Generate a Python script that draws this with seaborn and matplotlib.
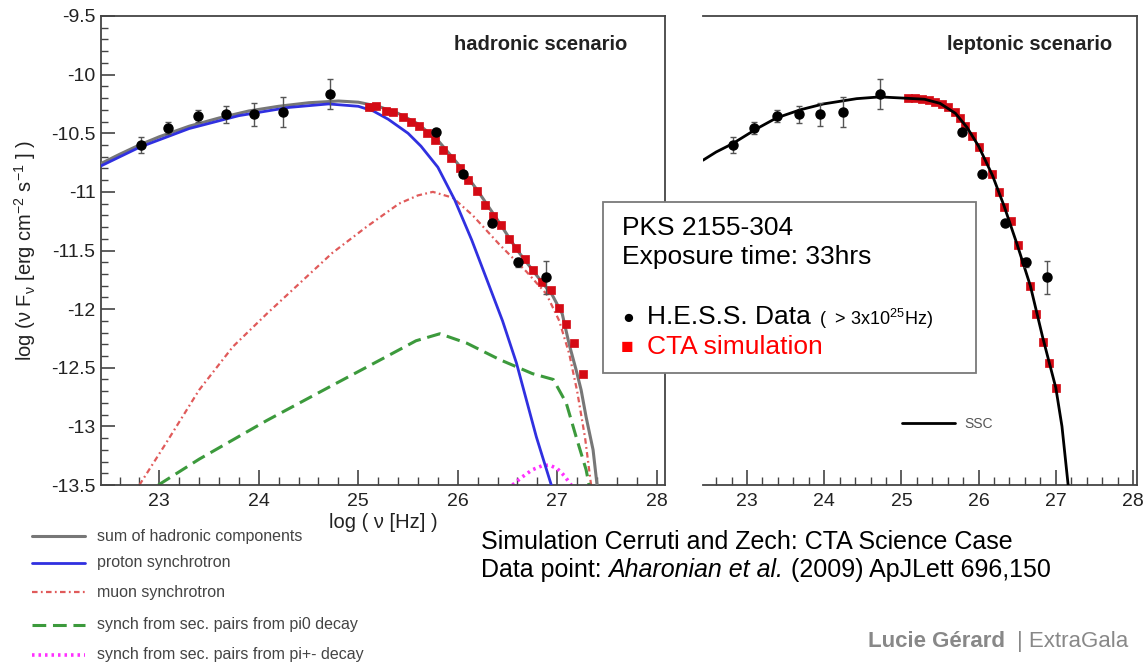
import matplotlib
matplotlib.use("Agg")
import matplotlib.pyplot as plt
from matplotlib.lines import Line2D
from matplotlib.patches import Rectangle
from matplotlib.ticker import MultipleLocator, FuncFormatter
import seaborn as sns

# ---------------------------------------------------------------- data
# H.E.S.S. spectral points (log nu [Hz], log nuFnu [erg cm-2 s-1])
hess_lognu = [22.82, 23.09, 23.385, 23.67, 23.95, 24.24, 24.72,
              25.78, 26.05, 26.34, 26.61, 26.89]
hess_logflux = [-10.60, -10.455, -10.35, -10.34, -10.34, -10.32, -10.165,
                -10.49, -10.85, -11.265, -11.60, -11.73]
hess_err = [0.065, 0.05, 0.05, 0.075, 0.10, 0.125, 0.125,
            0.02, 0.02, 0.02, 0.04, 0.14]

# CTA simulated points, hadronic model
cta_had_lognu = [25.11, 25.18, 25.28, 25.35, 25.45, 25.53, 25.61, 25.69, 25.77,
                 25.85, 25.93, 26.02, 26.10, 26.19, 26.27, 26.35, 26.43, 26.51,
                 26.59, 26.68, 26.76, 26.85, 26.94, 27.02, 27.09, 27.17, 27.26]
cta_had_logflux = [-10.28, -10.27, -10.31, -10.32, -10.36, -10.40, -10.44, -10.50,
                   -10.56, -10.64, -10.71, -10.80, -10.90, -10.99, -11.11, -11.21,
                   -11.28, -11.40, -11.48, -11.57, -11.67, -11.77, -11.84, -11.99,
                   -12.13, -12.29, -12.55]

# CTA simulated points, leptonic model
cta_lep_lognu = [25.09, 25.18, 25.27, 25.36, 25.44, 25.53, 25.61, 25.69, 25.76,
                 25.83, 25.92, 26.01, 26.08, 26.18, 26.26, 26.33, 26.42, 26.51,
                 26.59, 26.67, 26.75, 26.83, 26.91, 27.00]
cta_lep_logflux = [-10.20, -10.20, -10.21, -10.22, -10.23, -10.25, -10.28, -10.32,
                   -10.37, -10.44, -10.52, -10.62, -10.74, -10.85, -11.00, -11.13,
                   -11.25, -11.45, -11.60, -11.80, -12.04, -12.28, -12.46, -12.67]

# hadronic model components
sum_lognu = [22.41, 22.6, 22.8, 23.0, 23.3, 23.6, 23.9, 24.2, 24.5, 24.8, 25.0,
             25.2, 25.4, 25.6, 25.8, 26.0, 26.2, 26.4, 26.6, 26.8, 26.95, 27.05,
             27.12, 27.19, 27.24, 27.29, 27.36, 27.40]
sum_logflux = [-10.76, -10.68, -10.60, -10.53, -10.44, -10.37, -10.31, -10.27,
               -10.24, -10.225, -10.235, -10.27, -10.33, -10.42, -10.56, -10.76,
               -10.99, -11.24, -11.50, -11.72, -11.88, -12.04, -12.30, -12.52,
               -12.69, -12.92, -13.2, -13.5]

proton_lognu = [22.41, 22.8, 23.3, 23.8, 24.3, 24.7, 25.0, 25.15, 25.3, 25.5,
                25.63, 25.8, 25.97, 26.14, 26.32, 26.45, 26.59, 26.79, 26.94]
proton_logflux = [-10.78, -10.62, -10.46, -10.35, -10.28, -10.25, -10.27, -10.31,
                  -10.38, -10.50, -10.61, -10.79, -11.07, -11.41, -11.81, -12.1,
                  -12.46, -13.09, -13.5]

muon_lognu = [22.80, 23.07, 23.40, 23.74, 24.08, 24.41, 24.74, 25.08, 25.41, 25.6,
              25.75, 25.95, 26.15, 26.42, 26.69, 26.89, 27.02, 27.12, 27.2, 27.28,
              27.34]
muon_logflux = [-13.5, -13.14, -12.69, -12.32, -12.04, -11.78, -11.52, -11.30,
                -11.10, -11.03, -11.0, -11.05, -11.20, -11.45, -11.68, -11.87,
                -12.1, -12.38, -12.7, -13.1, -13.5]

pi0_lognu = [22.99, 23.40, 24.08, 24.74, 25.25, 25.58, 25.82, 26.09, 26.42, 26.75,
             26.96, 27.09, 27.19, 27.29, 27.32]
pi0_logflux = [-13.5, -13.28, -12.95, -12.65, -12.42, -12.27, -12.21, -12.29,
               -12.43, -12.55, -12.60, -12.80, -13.09, -13.37, -13.5]

pipm_lognu = [26.55, 26.65, 26.75, 26.85, 26.92, 27.0, 27.07, 27.14]
pipm_logflux = [-13.5, -13.43, -13.37, -13.335, -13.33, -13.36, -13.42, -13.5]

# leptonic (SSC) model
ssc_lognu = [22.43, 22.6, 22.81, 23.13, 23.38, 23.69, 23.99, 24.42, 24.72, 25.02,
             25.3, 25.5, 25.7, 25.85, 26.0, 26.18, 26.33, 26.5, 26.67, 26.83, 27.0,
             27.08, 27.16]
ssc_logflux = [-10.73, -10.66, -10.59, -10.46, -10.37, -10.30, -10.25, -10.205,
               -10.19, -10.20, -10.21, -10.245, -10.33, -10.45, -10.61, -10.86,
               -11.12, -11.45, -11.8, -12.24, -12.67, -13.0, -13.5]

y_ticks = [-13.5, -13, -12.5, -12, -11.5, -11, -10.5, -10, -9.5]
x_ticks = [23, 24, 25, 26, 27, 28]

legend_labels = ["sum of hadronic components", "proton synchrotron",
                 "muon synchrotron", "synch from sec. pairs from pi0 decay",
                 "synch from sec. pairs from pi+- decay"]

# ---------------------------------------------------------------- style
sns.set_style("ticks")
plt.rcParams["font.family"] = ["Liberation Sans", "DejaVu Sans"]
plt.rcParams["axes.unicode_minus"] = False
plt.rcParams["mathtext.fontset"] = "custom"
plt.rcParams["mathtext.rm"] = "Liberation Sans"
plt.rcParams["mathtext.it"] = "Liberation Sans:italic"
plt.rcParams["mathtext.bf"] = "Liberation Sans:bold"
plt.rcParams["mathtext.default"] = "regular"

GREY = "#777777"
BLUE = "#3030e0"
MUON = "#e05a5a"
GREEN = "#3c9a3c"
MAGENTA = "#ff30ff"
CTA_RED = "#d40a14"

W, H = 1143, 663
fig = plt.figure(figsize=(W / 100, H / 100), dpi=100)


def fx(px):
    return px / W


def fy(py):
    return 1 - py / H


def px_rect(x0, y0, x1, y1):
    return [fx(x0), fy(y1), (x1 - x0) / W, (y1 - y0) / H]


ax_h = fig.add_axes(px_rect(101, 16, 665, 485))
ax_l = fig.add_axes(px_rect(703, 16, 1137, 485))


def style_axes(ax, xlim):
    ax.set_xlim(*xlim)
    ax.set_ylim(-13.5, -9.5)
    for side in ["top", "right", "bottom", "left"]:
        ax.spines[side].set_color("#444444")
        ax.spines[side].set_linewidth(1.3)
    ax.set_xticks(x_ticks)
    ax.set_yticks(y_ticks)
    ax.xaxis.set_minor_locator(MultipleLocator(0.2))
    ax.yaxis.set_minor_locator(MultipleLocator(0.1))
    ax.yaxis.set_major_formatter(FuncFormatter(lambda v, p: f"{v:g}"))
    ax.tick_params(which="both", direction="in", colors="#444444",
                   labelcolor="#222222", bottom=True, left=True,
                   top=False, right=False)
    ax.tick_params(axis="x", which="major", length=11, width=1.2,
                   labelsize=14, pad=6)
    ax.tick_params(axis="x", which="minor", length=5.5, width=1.0)
    ax.tick_params(axis="y", which="major", length=10, width=1.2,
                   labelsize=14, pad=4)
    ax.tick_params(axis="y", which="minor", length=5, width=1.0)
    ax.set_xlabel("")
    ax.set_ylabel("")


def hess_points(ax):
    ax.errorbar(hess_lognu, hess_logflux, yerr=hess_err, fmt="o",
                color="black", ms=6.5, ecolor="#555555", elinewidth=1.0,
                capsize=2, capthick=1.0, zorder=6)


# ---------------------------------------------------------------- hadronic panel
sns.lineplot(x=muon_lognu, y=muon_logflux, ax=ax_h, color=MUON, linewidth=1.6,
             linestyle=(0, (2.5, 1.5, 0.8, 1.5)), sort=False, estimator=None,
             zorder=2)
sns.lineplot(x=pi0_lognu, y=pi0_logflux, ax=ax_h, color=GREEN, linewidth=2.2,
             linestyle=(0, (4.5, 2.2)), sort=False, estimator=None, zorder=2)
sns.lineplot(x=pipm_lognu, y=pipm_logflux, ax=ax_h, color=MAGENTA, linewidth=2.6,
             linestyle=(0, (0.7, 1.1)), sort=False, estimator=None, zorder=2)
sns.lineplot(x=sum_lognu, y=sum_logflux, ax=ax_h, color=GREY, linewidth=2.2,
             sort=False, estimator=None, zorder=3)
sns.lineplot(x=proton_lognu, y=proton_logflux, ax=ax_h, color=BLUE, linewidth=2.0,
             sort=False, estimator=None, zorder=3)
sns.scatterplot(x=cta_had_lognu, y=cta_had_logflux, ax=ax_h, marker="s", s=38,
                color=CTA_RED, edgecolor=CTA_RED, linewidth=0.5, zorder=4)
hess_points(ax_h)
style_axes(ax_h, (22.414, 28.083))

ax_h.text(-0.135, 0.5, r"log ($\nu$ F$_{\nu}$ [erg cm$^{-2}$ s$^{-1}$ ] )",
          transform=ax_h.transAxes, rotation=90, ha="center", va="center",
          fontsize=14.5, color="#222222")
ax_h.text(0.5, -0.081, "log ( \u03bd [Hz] )", transform=ax_h.transAxes,
          ha="center", va="center", fontsize=14.5, color="#222222")
ax_h.text(0.933, 0.940, "hadronic scenario", transform=ax_h.transAxes,
          ha="right", va="center", fontsize=14.5, fontweight="bold",
          color="#222222")

# ---------------------------------------------------------------- leptonic panel
sns.scatterplot(x=cta_lep_lognu, y=cta_lep_logflux, ax=ax_l, marker="s", s=38,
                color=CTA_RED, edgecolor=CTA_RED, linewidth=0.5, zorder=3)
sns.lineplot(x=ssc_lognu, y=ssc_logflux, ax=ax_l, color="black", linewidth=2.0,
             sort=False, estimator=None, zorder=4)
hess_points(ax_l)
style_axes(ax_l, (22.43, 28.052))
ax_l.spines["left"].set_visible(False)
ax_l.tick_params(axis="y", which="both", left=False, labelleft=False)
ax_l.text(0.942, 0.940, "leptonic scenario", transform=ax_l.transAxes,
          ha="right", va="center", fontsize=14.5, fontweight="bold",
          color="#222222")

# SSC key inside the leptonic panel
fig.add_artist(Line2D([fx(902), fx(955)], [fy(423), fy(423)], color="black",
                      linewidth=2.0, transform=fig.transFigure))
fig.text(fx(964), fy(424), "SSC", fontsize=10, color="#555555", va="center")

# ---------------------------------------------------------------- info box
box = Rectangle((fx(603), fy(373)), (976 - 603) / W, (373 - 202) / H,
                transform=fig.transFigure, facecolor="white",
                edgecolor="#7a7a7a", linewidth=1.3, zorder=5)
fig.add_artist(box)
fig.text(fx(622), fy(228), "PKS 2155-304", fontsize=19, va="center",
         color="black", zorder=6)
fig.text(fx(622), fy(257), "Exposure time: 33hrs", fontsize=19, va="center",
         color="black", zorder=6)
fig.text(fx(622), fy(318), "\u25cf", fontsize=14, va="center", color="black",
         zorder=6)
fig.text(fx(647), fy(317), "H.E.S.S. Data", fontsize=19, va="center",
         color="black", zorder=6)
fig.text(fx(819), fy(319), "(  > 3x10$^{25}$Hz)", fontsize=13, va="center",
         color="black", zorder=6)
fig.text(fx(621), fy(348), "\u25a0", fontsize=15, va="center", color="red",
         zorder=6)
fig.text(fx(647), fy(347), "CTA simulation", fontsize=19, va="center",
         color="red", zorder=6)

# ---------------------------------------------------------------- component key
key_rows = [536, 563, 592, 625, 655]
key_styles = [
    dict(color=GREY, linewidth=2.2, linestyle="-"),
    dict(color=BLUE, linewidth=2.0, linestyle="-"),
    dict(color=MUON, linewidth=1.6, linestyle=(0, (2.5, 1.5, 0.8, 1.5))),
    dict(color=GREEN, linewidth=2.2, linestyle=(0, (4.5, 2.2))),
    dict(color=MAGENTA, linewidth=2.6, linestyle=(0, (0.7, 1.1))),
]
for row, label, style in zip(key_rows, legend_labels, key_styles):
    fig.add_artist(Line2D([fx(32), fx(85)], [fy(row), fy(row)],
                          transform=fig.transFigure, **style))
    fig.text(fx(97), fy(row), label, fontsize=11.5, color="#444444",
             va="center")

# ---------------------------------------------------------------- credits
renderer = fig.canvas.get_renderer()


def text_run(x_px, y_px, pieces, size, color):
    x = x_px
    gap = size * 0.278 * 100 / 72
    for i, (s, kw) in enumerate(pieces):
        t = fig.text(fx(x), fy(y_px), s, fontsize=size, color=color,
                     va="baseline", **kw)
        x += t.get_window_extent(renderer=renderer).width
        if i < len(pieces) - 1:
            x += gap


text_run(481, 549, [("Simulation Cerruti and Zech: CTA Science Case", {})],
         18, "black")
text_run(481, 577, [("Data point:", {}),
                    ("Aharonian et al.", {"style": "italic"}),
                    ("(2009) ApJLett 696,150", {})], 18, "black")
text_run(868, 647, [("Lucie G\u00e9rard", {"fontweight": "bold"}),
                    ("", {}), ("| ExtraGala", {})], 16, "#888888")

fig.savefig("out.png", dpi=100)
